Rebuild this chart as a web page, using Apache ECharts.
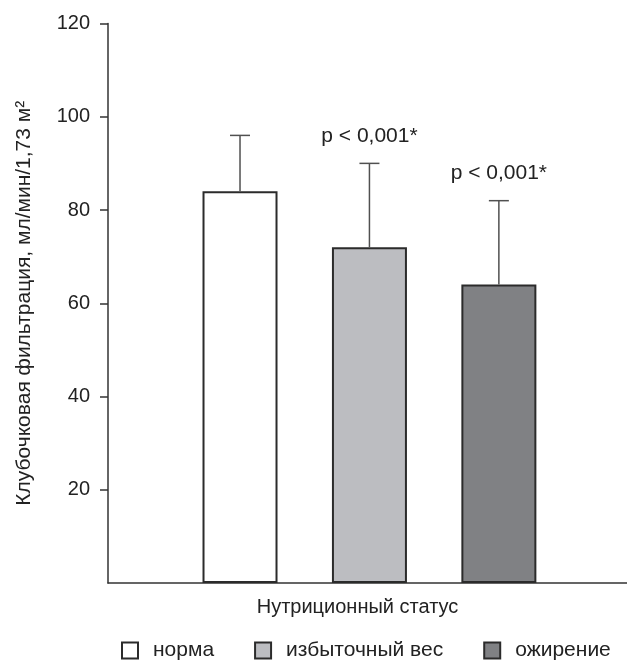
<!DOCTYPE html>
<html>
<head>
<meta charset="utf-8">
<script src="https://cdn.jsdelivr.net/npm/echarts@6/dist/echarts.min.js"></script>
<style>
  html, body { margin: 0; padding: 0; background: #fff; }
  #chart { width: 627px; height: 666px; }
</style>
</head>
<body>
<div id="chart"></div>
<script>
// группы нутриционного статуса
var categories = ['норма', 'избыточный вес', 'ожирение'];
var positions = [1, 2, 3];
var means = [84, 72, 64];
var upperErr = [96, 90, 82];
var pLabels = ['', 'p < 0,001*', 'p < 0,001*'];
var yTicks = [20, 40, 60, 80, 100, 120];

var fills = ['#ffffff', '#bcbdc1', '#808184'];
var font = 'Liberation Sans, Arial, sans-serif';

var barSeries = categories.map(function (name, i) {
    return {
        name: name,
        type: 'bar',
        barWidth: 75,
        barGap: '-100%',
        itemStyle: {
            color: fills[i],
            borderColor: '#2b2b2b',
            borderWidth: 2
        },
        data: [[positions[i], means[i]]]
    };
});

var errData = positions.map(function (x, i) {
    return [x, means[i], upperErr[i], i];
});

var errSeries = {
    type: 'custom',
    silent: true,
    data: errData,
    renderItem: function (params, api) {
        var base = api.coord([api.value(0), api.value(1)]);
        var top = api.coord([api.value(0), api.value(2)]);
        var label = pLabels[api.value(3)];
        var children = [
            {
                type: 'line',
                shape: { x1: base[0], y1: base[1], x2: top[0], y2: top[1] },
                style: { stroke: '#505050', lineWidth: 1.5 }
            },
            {
                type: 'line',
                shape: { x1: top[0] - 10, y1: top[1], x2: top[0] + 10, y2: top[1] },
                style: { stroke: '#505050', lineWidth: 1.5 }
            }
        ];
        if (label) {
            children.push({
                type: 'text',
                style: {
                    text: label,
                    x: top[0],
                    y: top[1] - 17,
                    align: 'center',
                    verticalAlign: 'bottom',
                    fontSize: 21,
                    fontFamily: font,
                    fill: '#222'
                }
            });
        }
        return { type: 'group', children: children };
    },
    z: 3
};

var option = {
    backgroundColor: '#fff',
    animation: false,
    textStyle: { fontFamily: font },
    grid: {
        left: 108,
        right: 0,
        top: 23.5,
        bottom: 83
    },
    legend: {
        data: categories,
        left: 116,
        top: 635,
        icon: 'rect',
        itemWidth: 16,
        itemHeight: 16,
        itemGap: 40,
        textStyle: {
            fontSize: 21,
            fontFamily: font,
            color: '#222',
            padding: [0, 0, 0, 10]
        }
    },
    xAxis: {
        type: 'value',
        min: -0.02,
        max: 3.99,
        name: 'Нутриционный статус',
        nameLocation: 'middle',
        nameGap: 14,
        nameTextStyle: {
            fontSize: 20,
            fontFamily: font,
            color: '#222',
            padding: [0, 20, 0, 0]
        },
        axisLine: { show: true, lineStyle: { color: '#333', width: 1.5 } },
        axisTick: { show: false },
        axisLabel: { show: false },
        splitLine: { show: false }
    },
    yAxis: {
        type: 'value',
        min: 0,
        max: 120,
        interval: 20,
        name: 'Клубочковая фильтрация, мл/мин/1,73 м²',
        nameLocation: 'middle',
        nameGap: 73,
        nameTextStyle: {
            fontSize: 21,
            fontFamily: font,
            color: '#222'
        },
        axisLine: { show: true, onZero: false, lineStyle: { color: '#333', width: 1.5 } },
        axisTick: {
            show: true,
            inside: false,
            length: 8,
            customValues: yTicks,
            lineStyle: { color: '#333', width: 1.5 }
        },
        axisLabel: {
            margin: 18,
            fontSize: 20,
            fontFamily: font,
            color: '#222',
            customValues: yTicks
        },
        splitLine: { show: false }
    },
    series: barSeries.concat([errSeries])
};

var myChart = echarts.init(document.getElementById('chart'));
myChart.setOption(option);
</script>
</body>
</html>
